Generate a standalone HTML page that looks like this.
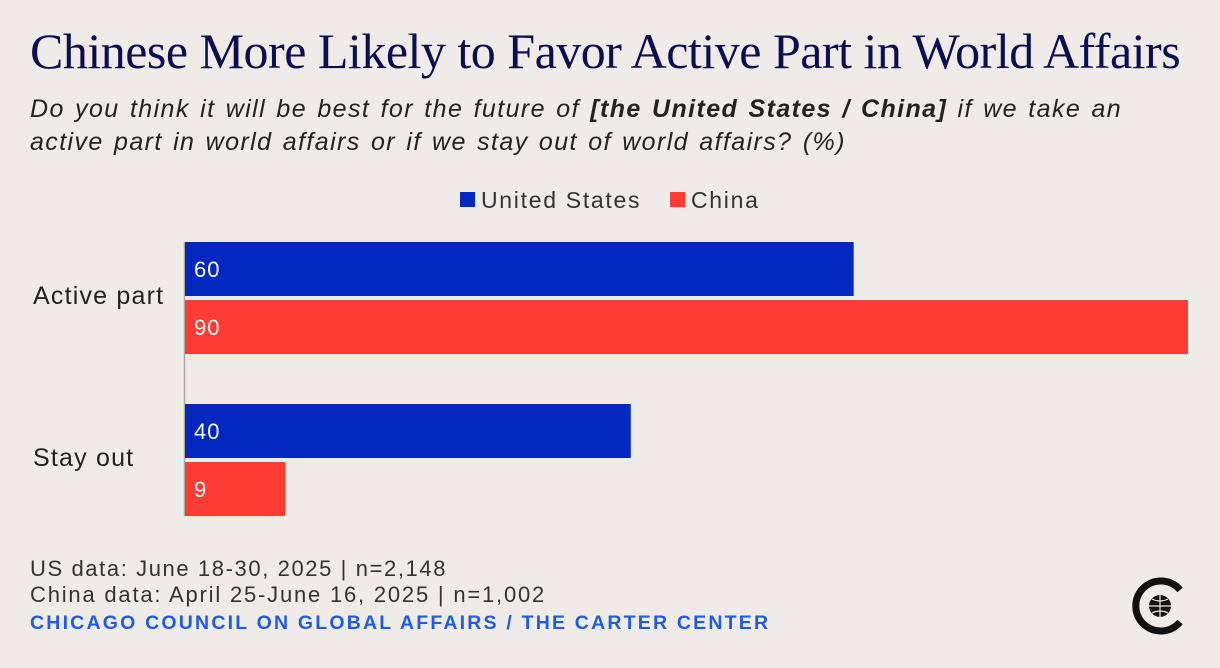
<!DOCTYPE html>
<html><head><meta charset="utf-8"><style>
body{margin:0;width:1220px;height:668px;background:#efebe8;overflow:hidden;position:relative;font-family:"Liberation Sans",sans-serif}
.t{position:absolute;left:30px;top:22px;font-family:"Liberation Serif",serif;font-size:50px;color:#0d0d52;letter-spacing:-0.5px;white-space:nowrap}
.s{position:absolute;left:30px;top:93px;font-size:25px;font-style:italic;color:#222;line-height:33px;width:1190px;letter-spacing:1.4px;word-spacing:2px;white-space:nowrap}
.f{position:absolute;left:30px;font-size:22px;color:#333;white-space:nowrap;letter-spacing:1.6px}
</style></head><body>
<div class="t">Chinese More Likely to Favor Active Part in World Affairs</div>
<div class="s">Do you think it will be best for the future of <b>[the United States / China]</b> if we take an<br>active part in world affairs or if we stay out of world affairs? (%)</div>
<svg id="c" width="1220" height="668" style="position:absolute;left:0;top:0"></svg>
<div class="f" style="top:556px">US data: June 18-30, 2025 | n=2,148</div>
<div class="f" style="top:582px;letter-spacing:1.8px">China data: April 25-June 16, 2025 | n=1,002</div>
<div class="f" style="top:612px;color:#1f5ce0;font-weight:bold;font-size:19.5px;letter-spacing:2.2px">CHICAGO COUNCIL ON GLOBAL AFFAIRS / THE CARTER CENTER</div>
<svg width="60" height="60" style="position:absolute;left:1130px;top:576px">
<path d="M50 14 A25 25 0 1 0 50 46" fill="none" stroke="#111" stroke-width="7"/>
<circle cx="30" cy="30" r="11" fill="#111"/>
<path d="M19 30H41M30 19V41M22 23Q30 27 38 23M22 37Q30 33 38 37" stroke="#efebe8" stroke-width="1.2" fill="none"/>
</svg>
<script>
const categories=["Active part","Stay out"];
const seriesNames=["United States","China"];
const usValues=[60,40];
const chinaValues=[90,9];
const colors=["#0228c0","#ff3b35"];
const ns="http://www.w3.org/2000/svg";
const svg=document.getElementById('c');
const x0=185,xs=(1188-185)/90;
const x=v=>x0+v*xs;
const groupTop=[242,404],barH=54,gap=4;
function mk(t,a){const e=document.createElementNS(ns,t);for(const k in a)e.setAttribute(k,a[k]);svg.appendChild(e);return e;}
let lx=[460,670];
seriesNames.forEach((n,i)=>{
 const r=mk('rect',{x:lx[i],y:192,width:15,height:15,fill:colors[i]});
 
 
 const t=mk('text',{x:lx[i]+21,y:208,'font-size':23,fill:'#333','font-family':'Liberation Sans','letter-spacing':1.7});
 t.textContent=n;
 
 
});
const ax=mk('line',{x1:184.5,x2:184.5,y1:242,y2:516,stroke:'#aaa','stroke-width':1.5});


categories.forEach((c,ci)=>{
 const lab=mk('text',{x:33,y:groupTop[ci]+barH+gap/2+6,'font-size':25,fill:'#222','font-family':'Liberation Sans','letter-spacing':1.2});
 lab.textContent=c;
 
 
 [usValues,chinaValues].forEach((vals,si)=>{
  const y=groupTop[ci]+si*(barH+gap);
  const r=mk('rect',{x:x0,y:y,width:x(vals[ci])-x0,height:barH,fill:colors[si]});
  
  
  const t=mk('text',{x:x0+9,y:y+barH/2+8,'font-size':22,fill:'#fff','font-family':'Liberation Sans','letter-spacing':1});
  t.textContent=vals[ci];
  
  
 });
});
</script>
</body></html>
